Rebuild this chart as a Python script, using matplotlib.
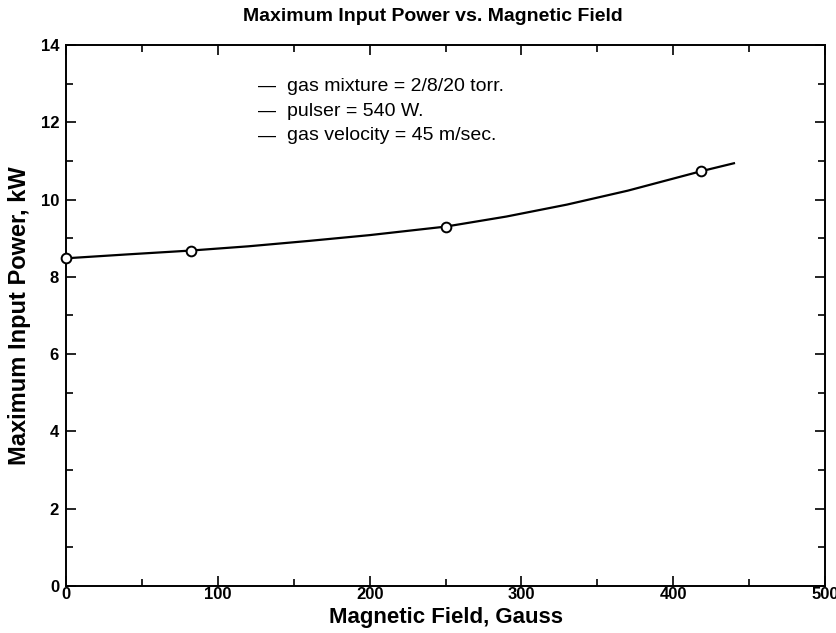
import matplotlib
matplotlib.use("Agg")
import matplotlib.pyplot as plt
from matplotlib.ticker import MultipleLocator

# Measured data points
field_pts = [0, 82, 250, 418]
power_pts = [8.48, 8.68, 9.30, 10.73]

# Smooth curve
field_curve = [0, 40, 82, 120, 160, 200, 250, 290, 330, 370, 418, 440]
power_curve = [8.48, 8.58, 8.68, 8.79, 8.93, 9.08, 9.30, 9.56, 9.87, 10.23, 10.73, 10.94]

notes = ["gas mixture = 2/8/20 torr.", "pulser = 540 W.", "gas velocity = 45 m/sec."]

plt.rcParams['font.family'] = ['Liberation Sans', 'DejaVu Sans']

fig = plt.figure(figsize=(8.37, 6.33), dpi=100)
ax = fig.add_axes([0.0789, 0.0743, 0.9068, 0.8546])

ax.plot(field_curve, power_curve, color='black', lw=1.6, zorder=2)
ax.plot(field_pts, power_pts, linestyle='none', marker='o', markersize=7,
        markerfacecolor='white', markeredgecolor='black', markeredgewidth=1.4,
        zorder=3, clip_on=False)

ax.set_xlim(0, 500)
ax.set_ylim(0, 14)
ax.xaxis.set_major_locator(MultipleLocator(100))
ax.xaxis.set_minor_locator(MultipleLocator(50))
ax.yaxis.set_major_locator(MultipleLocator(2))
ax.yaxis.set_minor_locator(MultipleLocator(1))
ax.tick_params(which='both', direction='in', top=True, right=True, width=1.2)
ax.tick_params(which='major', length=7, labelsize=12)
ax.tick_params(axis='x', which='major', pad=1)
ax.tick_params(axis='y', which='major', pad=5)
ax.tick_params(which='minor', length=5)
for lbl in ax.get_xticklabels() + ax.get_yticklabels():
    lbl.set_fontweight('bold')
for s in ax.spines.values():
    s.set_linewidth(1.4)

ax.set_xlabel("Magnetic Field, Gauss", fontsize=16, fontweight='bold', labelpad=3)
ax.set_ylabel("Maximum Input Power, kW", fontsize=17, fontweight='bold', labelpad=7)
ax.set_title("Maximum Input Power vs. Magnetic Field", fontsize=14,
             fontweight='bold', pad=17, x=0.483)

ys = [0.924, 0.878, 0.832]
for t, y in zip(notes, ys):
    ax.text(0.253, y, "—", transform=ax.transAxes, fontsize=13,
            va='center', ha='left')
    ax.text(0.291, y, t, transform=ax.transAxes, fontsize=14,
            va='center', ha='left')

fig.savefig("out.png", dpi=100)
